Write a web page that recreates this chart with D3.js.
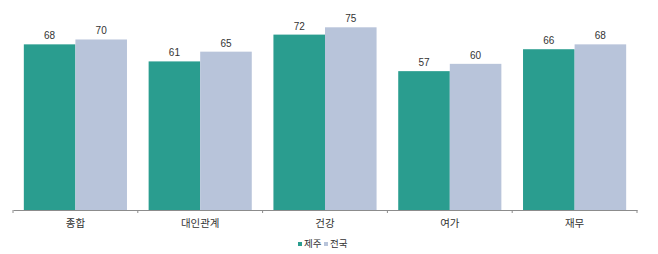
<!DOCTYPE html>
<html>
  <head>
    <meta charset="utf-8">
    <script src="https://cdn.jsdelivr.net/npm/d3@7"></script>
    <style type="text/css">
body{
	margin: 0;
	background: white;
}
svg{
	display: block;
}
.label{
	font-family: "Liberation Sans", Arial, sans-serif;
	font-size: 10px;
	fill: #333;
}
.cat{
	font-family: "Noto Sans CJK KR", sans-serif;
	font-size: 10.5px;
	fill: #333;
}
    </style>
  </head>
  <body>
	<script>
		// data
		var categories = ["종합", "대인관계", "건강", "여가", "재무"];
		var seriesNames = ["제주", "전국"];
		var jeju = [68, 61, 72, 57, 66];
		var national = [70, 65, 75, 60, 68];
		var colors = ["#2a9d8f", "#b8c4da"];

		var width = 658, height = 254;
		var left = 13, right = 637, baseline = 210;

		var svg = d3.select("body")
			.append("svg")
			.attr("width", width)
			.attr("height", height);

		var x0 = d3.scaleBand()
			.domain(categories)
			.range([left, right])
			.paddingInner(0)
			.paddingOuter(0);

		var x1 = d3.scaleBand()
			.domain(seriesNames)
			.range([0, x0.bandwidth()])
			.paddingOuter(0.21)
			.paddingInner(0);

		var y = d3.scaleLinear()
			.domain([0, 80])
			.range([baseline, baseline - 80 * 2.436]);

		var rows = categories.map(function(c, i){
			return {cat: c, vals: [jeju[i], national[i]]};
		});

		var group = svg.selectAll(".grp")
			.data(rows)
			.enter()
			.append("g")
			.attr("class", "grp")
			.attr("transform", function(d){ return "translate(" + x0(d.cat) + ",0)"; });

		var bars = group.selectAll("g.bar")
			.data(function(d){
				return d.vals.map(function(v, j){ return {name: seriesNames[j], value: v, j: j}; });
			})
			.enter()
			.append("g")
			.attr("class", "bar");

		bars.append("rect")
			.attr("x", function(d){ return x1(d.name); })
			.attr("y", function(d){ return y(d.value); })
			.attr("width", x1.bandwidth())
			.attr("height", function(d){ return y(0) - y(d.value); })
			.style("fill", function(d){ return colors[d.j]; });

		bars.append("text")
			.attr("class", "label")
			.attr("x", function(d){ return x1(d.name) + x1.bandwidth() / 2; })
			.attr("y", function(d){ return y(d.value) - 5; })
			.attr("text-anchor", "middle")
			.text(function(d){ return d.value; });

		// x axis
		var axis = d3.axisBottom(x0)
			.tickSize(0)
			.tickPadding(10);

		var ax = svg.append("g")
			.attr("transform", "translate(0," + baseline + ")")
			.call(axis);
		ax.select(".domain").attr("stroke", "#8c8c8c");
		ax.selectAll(".tick text")
			.attr("class", "cat")
			.attr("font-family", null)
			.attr("font-size", null);

		// boundary ticks between categories
		var bounds = categories.map(function(c){ return x0(c); }).concat([right]);
		ax.selectAll(".bound")
			.data(bounds)
			.enter()
			.append("line")
			.attr("x1", function(d){ return d; })
			.attr("x2", function(d){ return d; })
			.attr("y1", 0)
			.attr("y2", 3)
			.attr("stroke", "#8c8c8c");

		// legend
		var legend = svg.append("g")
			.attr("transform", "translate(298,244)");
		var li = legend.selectAll("g")
			.data(seriesNames)
			.enter()
			.append("g")
			.attr("transform", function(d, i){ return "translate(" + (i * 26) + ",0)"; });
		li.append("rect")
			.attr("x", 0)
			.attr("y", -2)
			.attr("width", 4)
			.attr("height", 4)
			.style("fill", function(d, i){ return colors[i]; });
		li.append("text")
			.attr("class", "cat")
			.attr("x", 6)
			.attr("y", 0)
			.attr("dy", "0.35em")
			.style("font-size", "9.5px")
			.text(function(d){ return d; });
	</script>
  </body>
</html>
